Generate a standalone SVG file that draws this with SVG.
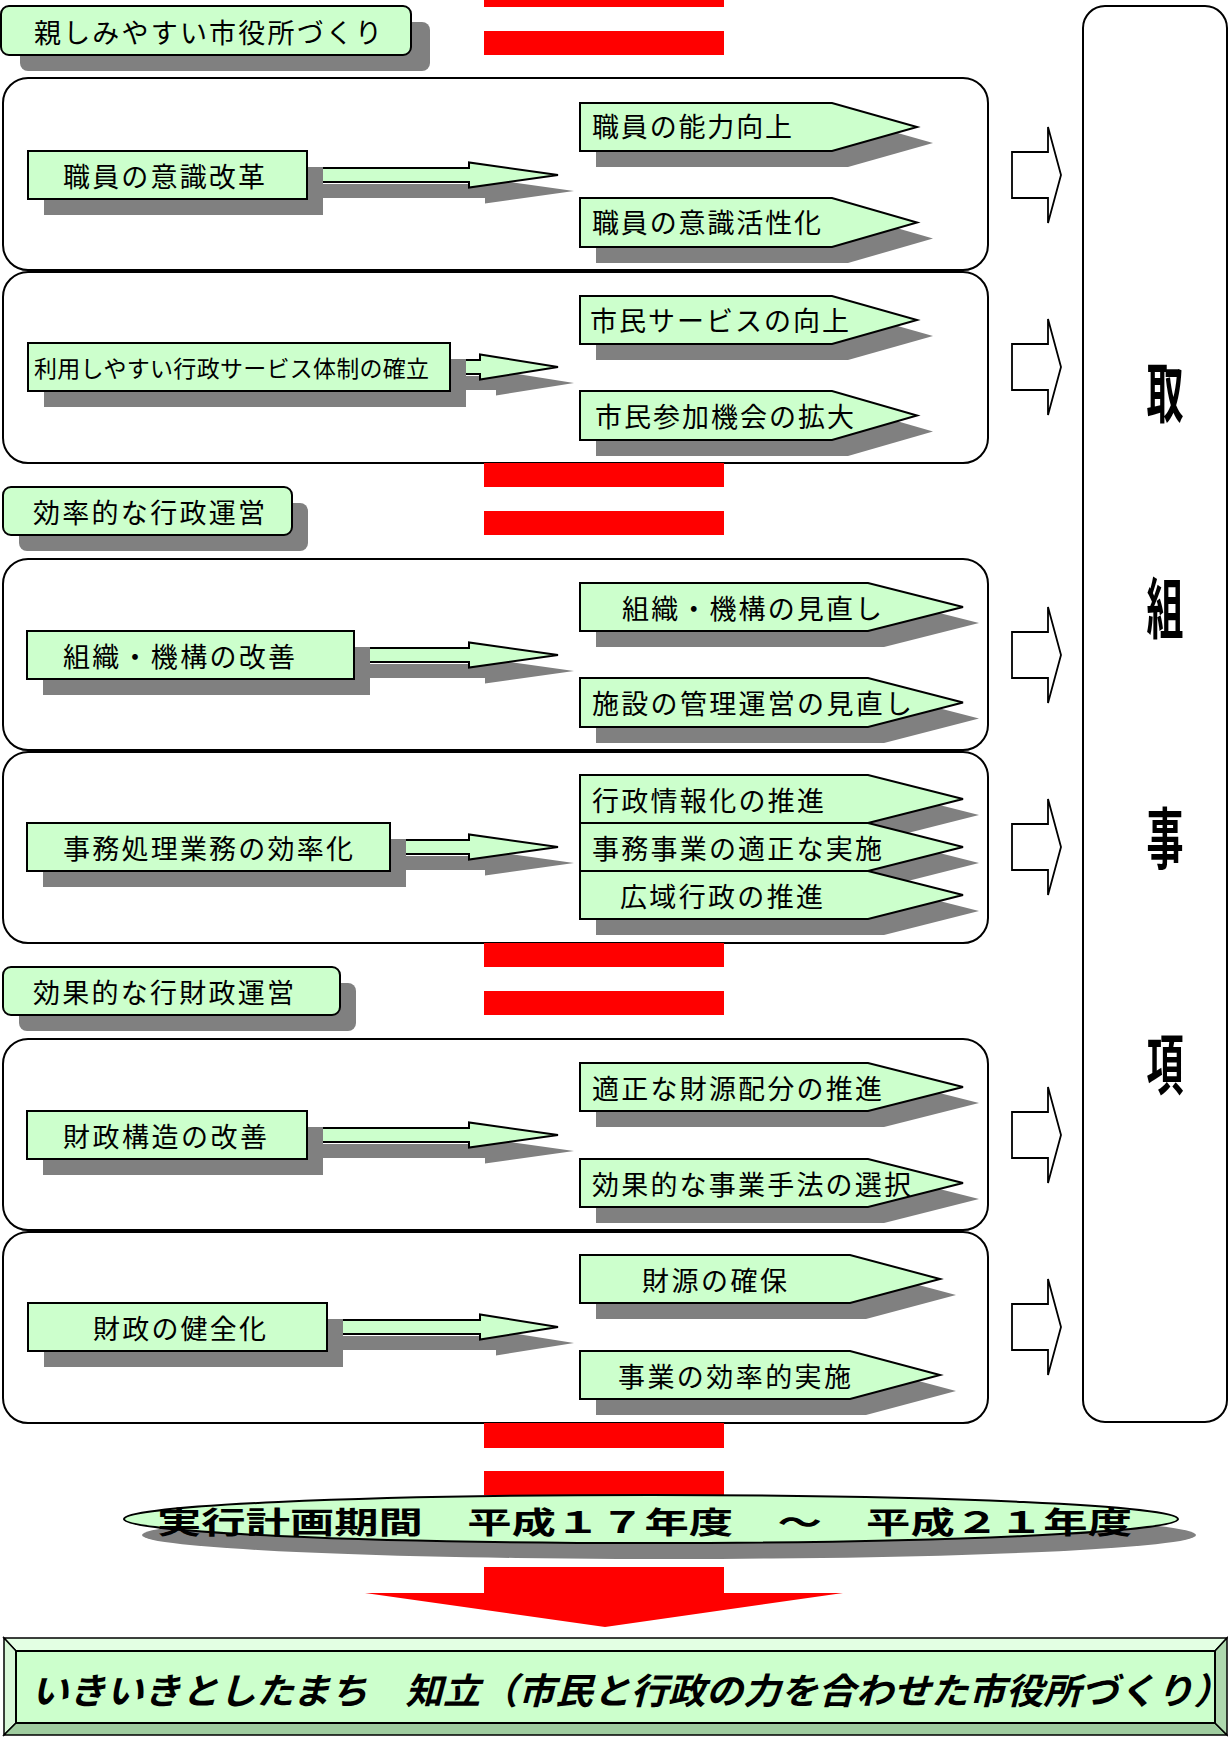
<svg xmlns="http://www.w3.org/2000/svg" width="1228" height="1738" viewBox="0 0 1228 1738">
<style>
.bg{fill:#ffffff}
.node{fill:#ccffcc;stroke:#000;stroke-width:2;stroke-linejoin:miter}
.sh{fill:#808080}
.grp{fill:#ffffff;stroke:#000;stroke-width:2}
.bar{fill:#ff0000}
.hollow{fill:#ffffff;stroke:#000;stroke-width:1.8;stroke-linejoin:miter}
.t{font-family:"Noto Sans CJK JP","Noto Sans CJK SC",sans-serif;font-size:27px;fill:#000;dominant-baseline:central}
.tb{font-family:"Noto Sans CJK JP","Noto Sans CJK SC",sans-serif;font-weight:bold;fill:#000;dominant-baseline:central}
</style>
<rect class="bg" x="0" y="0" width="1228" height="1738"/>

<!-- group containers -->
<g id="groups">
<rect id="grp1" class="grp" x="3" y="78" width="985" height="192" rx="25"/>
<rect id="grp2" class="grp" x="3" y="272" width="985" height="191" rx="25"/>
<rect id="grp3" class="grp" x="3" y="559" width="985" height="191" rx="25"/>
<rect id="grp4" class="grp" x="3" y="752" width="985" height="191" rx="25"/>
<rect id="grp5" class="grp" x="3" y="1039" width="985" height="191" rx="25"/>
<rect id="grp6" class="grp" x="3" y="1232" width="985" height="191" rx="25"/>
</g>

<!-- connectors -->
<g id="connectors">
<!-- red dashed flow bars -->
<rect class="bar" x="484" y="0" width="240" height="7"/>
<rect class="bar" x="484" y="31" width="240" height="24"/>
<rect class="bar" x="484" y="463" width="240" height="24"/>
<rect class="bar" x="484" y="511" width="240" height="24"/>
<rect class="bar" x="484" y="943" width="240" height="24"/>
<rect class="bar" x="484" y="991" width="240" height="24"/>
<rect class="bar" x="484" y="1423" width="240" height="25"/>
<rect class="bar" x="484" y="1471" width="240" height="24"/>
<polygon class="bar" points="484,1567 724,1567 724,1593 843,1593 605,1627 365,1593 484,1593"/>

<!-- block arrows from left nodes (shadow then arrow) -->
<g id="arr1">
<polygon class="sh" transform="translate(16,16)" points="300,168 469,168 469,162.5 558,175 469,187.5 469,182 300,182"/>
<polygon class="node" points="300,168 469,168 469,162.5 558,175 469,187.5 469,182 300,182"/>
</g>
<g id="arr2">
<polygon class="sh" transform="translate(16,16)" points="443,360 480,360 480,354.5 558,367 480,379.5 480,374 443,374"/>
<polygon class="node" points="443,360 480,360 480,354.5 558,367 480,379.5 480,374 443,374"/>
</g>
<g id="arr3">
<polygon class="sh" transform="translate(16,16)" points="347,648 469,648 469,642.5 558,655 469,667.5 469,662 347,662"/>
<polygon class="node" points="347,648 469,648 469,642.5 558,655 469,667.5 469,662 347,662"/>
</g>
<g id="arr4">
<polygon class="sh" transform="translate(16,16)" points="383,840 469,840 469,834.5 558,847 469,859.5 469,854 383,854"/>
<polygon class="node" points="383,840 469,840 469,834.5 558,847 469,859.5 469,854 383,854"/>
</g>
<g id="arr5">
<polygon class="sh" transform="translate(16,16)" points="300,1128 469,1128 469,1122.5 558,1135 469,1147.5 469,1142 300,1142"/>
<polygon class="node" points="300,1128 469,1128 469,1122.5 558,1135 469,1147.5 469,1142 300,1142"/>
</g>
<g id="arr6">
<polygon class="sh" transform="translate(16,16)" points="320,1320 480,1320 480,1314.5 558,1327 480,1339.5 480,1334 320,1334"/>
<polygon class="node" points="320,1320 480,1320 480,1314.5 558,1327 480,1339.5 480,1334 320,1334"/>
</g>

<!-- hollow arrows to 取組事項 -->
<polygon class="hollow" points="1012,152 1048,152 1048,127 1061,175 1048,223 1048,198 1012,198"/>
<polygon class="hollow" points="1012,344 1048,344 1048,319 1061,367 1048,415 1048,390 1012,390"/>
<polygon class="hollow" points="1012,632 1048,632 1048,607 1061,655 1048,703 1048,678 1012,678"/>
<polygon class="hollow" points="1012,824 1048,824 1048,799 1061,847 1048,895 1048,870 1012,870"/>
<polygon class="hollow" points="1012,1112 1048,1112 1048,1087 1061,1135 1048,1183 1048,1158 1012,1158"/>
<polygon class="hollow" points="1012,1304 1048,1304 1048,1279 1061,1327 1048,1375 1048,1350 1012,1350"/>
</g>

<!-- section labels -->
<g id="label1">
<rect class="sh" x="20" y="22" width="410" height="49" rx="8"/>
<rect class="node" x="1" y="6" width="410" height="49" rx="8"/>
<text class="t" x="34" y="31" textLength="348">親しみやすい市役所づくり</text>
</g>
<g id="label2">
<rect class="sh" x="19" y="503" width="289" height="48" rx="8"/>
<rect class="node" x="3" y="487" width="289" height="48" rx="8"/>
<text class="t" x="33" y="511" textLength="232">効率的な行政運営</text>
</g>
<g id="label3">
<rect class="sh" x="19" y="983" width="337" height="48" rx="8"/>
<rect class="node" x="3" y="967" width="337" height="48" rx="8"/>
<text class="t" x="33" y="991" textLength="261">効果的な行財政運営</text>
</g>

<!-- left nodes -->
<g id="n1">
<rect class="sh" x="44" y="167" width="279" height="48"/>
<rect class="node" x="28" y="151" width="279" height="48"/>
<text class="t" x="63" y="175" textLength="202">職員の意識改革</text>
</g>
<g id="n2">
<rect class="sh" x="44" y="359" width="422" height="48"/>
<rect class="node" x="28" y="343" width="422" height="48"/>
<text class="t" x="34" y="367" style="font-size:23px" textLength="395">利用しやすい行政サービス体制の確立</text>
</g>
<g id="n3">
<rect class="sh" x="43" y="647" width="327" height="48"/>
<rect class="node" x="27" y="631" width="327" height="48"/>
<text class="t" x="63" y="655" textLength="232">組織・機構の改善</text>
</g>
<g id="n4">
<rect class="sh" x="43" y="839" width="363" height="48"/>
<rect class="node" x="27" y="823" width="363" height="48"/>
<text class="t" x="63" y="847" textLength="290">事務処理業務の効率化</text>
</g>
<g id="n5">
<rect class="sh" x="43" y="1127" width="280" height="48"/>
<rect class="node" x="27" y="1111" width="280" height="48"/>
<text class="t" x="63" y="1135" textLength="204">財政構造の改善</text>
</g>
<g id="n6">
<rect class="sh" x="44" y="1319" width="299" height="48"/>
<rect class="node" x="28" y="1303" width="299" height="48"/>
<text class="t" x="93" y="1327" textLength="173">財政の健全化</text>
</g>

<!-- right pentagon nodes -->
<g id="p1a">
<path class="sh" transform="translate(16,16)" d="M580,103 H832 L917,127 L832,151 H580 Z"/>
<path class="node" d="M580,103 H832 L917,127 L832,151 H580 Z"/>
<text class="t" x="592" y="125" textLength="200">職員の能力向上</text>
</g>
<g id="p1b">
<path class="sh" transform="translate(16,16)" d="M580,198 H832 L917,222.5 L832,247 H580 Z"/>
<path class="node" d="M580,198 H832 L917,222.5 L832,247 H580 Z"/>
<text class="t" x="592" y="221" textLength="229">職員の意識活性化</text>
</g>
<g id="p2a">
<path class="sh" transform="translate(16,16)" d="M580,296 H832 L917,320 L832,344 H580 Z"/>
<path class="node" d="M580,296 H832 L917,320 L832,344 H580 Z"/>
<text class="t" x="590" y="319" textLength="259">市民サービスの向上</text>
</g>
<g id="p2b">
<path class="sh" transform="translate(16,16)" d="M580,391 H832 L917,415.5 L832,440 H580 Z"/>
<path class="node" d="M580,391 H832 L917,415.5 L832,440 H580 Z"/>
<text class="t" x="595" y="415" textLength="259">市民参加機会の拡大</text>
</g>
<g id="p3a">
<path class="sh" transform="translate(16,16)" d="M580,583 H868 L963,607 L868,631 H580 Z"/>
<path class="node" d="M580,583 H868 L963,607 L868,631 H580 Z"/>
<text class="t" x="622" y="607" textLength="260">組織・機構の見直し</text>
</g>
<g id="p3b">
<path class="sh" transform="translate(16,16)" d="M580,678 H868 L963,702.5 L868,727 H580 Z"/>
<path class="node" d="M580,678 H868 L963,702.5 L868,727 H580 Z"/>
<text class="t" x="592" y="702" textLength="320">施設の管理運営の見直し</text>
</g>
<g id="p4a">
<path class="sh" transform="translate(16,16)" d="M580,775 H868 L963,799 L868,823 H580 Z"/>
</g>
<g id="p4b">
<path class="sh" transform="translate(16,16)" d="M580,823 H868 L963,847 L868,871 H580 Z"/>
</g>
<g id="p4c">
<path class="sh" transform="translate(16,16)" d="M580,871 H868 L963,895 L868,919 H580 Z"/>
<path class="node" d="M580,871 H868 L963,895 L868,919 H580 Z"/>
<text class="t" x="620" y="895" textLength="203">広域行政の推進</text>
</g>
<g id="p4b-face">
<path class="node" d="M580,823 H868 L963,847 L868,871 H580 Z"/>
<text class="t" x="592" y="847" textLength="290">事務事業の適正な実施</text>
</g>
<g id="p4a-face">
<path class="node" d="M580,775 H868 L963,799 L868,823 H580 Z"/>
<text class="t" x="592" y="799" textLength="232">行政情報化の推進</text>
</g>
<g id="p5a">
<path class="sh" transform="translate(16,16)" d="M580,1063 H868 L963,1087 L868,1111 H580 Z"/>
<path class="node" d="M580,1063 H868 L963,1087 L868,1111 H580 Z"/>
<text class="t" x="592" y="1087" textLength="290">適正な財源配分の推進</text>
</g>
<g id="p5b">
<path class="sh" transform="translate(16,16)" d="M580,1159 H868 L963,1183 L868,1207 H580 Z"/>
<path class="node" d="M580,1159 H868 L963,1183 L868,1207 H580 Z"/>
<text class="t" x="592" y="1183" textLength="319">効果的な事業手法の選択</text>
</g>
<g id="p6a">
<path class="sh" transform="translate(16,16)" d="M580,1255 H850 L940,1279 L850,1303 H580 Z"/>
<path class="node" d="M580,1255 H850 L940,1279 L850,1303 H580 Z"/>
<text class="t" x="642" y="1279" textLength="145">財源の確保</text>
</g>
<g id="p6b">
<path class="sh" transform="translate(16,16)" d="M580,1351 H850 L940,1375 L850,1399 H580 Z"/>
<path class="node" d="M580,1351 H850 L940,1375 L850,1399 H580 Z"/>
<text class="t" x="618" y="1375" textLength="233">事業の効率的実施</text>
</g>

<!-- 取組事項 -->
<g id="torikumi">
<rect class="grp" x="1083" y="6" width="144" height="1416" rx="22"/>
<text class="tb" transform="translate(1165,388) scale(0.56,1)" text-anchor="middle" style="font-size:66px">取</text>
<text class="tb" transform="translate(1165,604) scale(0.56,1)" text-anchor="middle" style="font-size:66px">組</text>
<text class="tb" transform="translate(1165,834) scale(0.56,1)" text-anchor="middle" style="font-size:66px">事</text>
<text class="tb" transform="translate(1165,1060) scale(0.56,1)" text-anchor="middle" style="font-size:66px">項</text>
</g>

<!-- period ellipse -->
<g id="period">
<ellipse class="sh" cx="669" cy="1535" rx="527" ry="24"/>
<ellipse class="node" cx="651" cy="1519" rx="527" ry="24"/>
<text class="tb" x="157" y="1520" style="font-size:30px" textLength="975" lengthAdjust="spacingAndGlyphs">実行計画期間　平成１７年度　～　平成２１年度</text>
</g>

<!-- goal banner -->
<g id="goal">
<polygon points="4,1638 1227,1638 1215,1651 16,1651" fill="#e3ffe3" stroke="#000" stroke-width="1.5"/>
<polygon points="4,1638 16,1651 16,1723 4,1735" fill="#d8f8d8" stroke="#000" stroke-width="1.5"/>
<polygon points="4,1735 16,1723 1215,1723 1227,1735" fill="#9fcc9f" stroke="#000" stroke-width="1.5"/>
<polygon points="1227,1638 1227,1735 1215,1723 1215,1651" fill="#aed8ae" stroke="#000" stroke-width="1.5"/>
<rect x="16" y="1651" width="1199" height="72" fill="#ccffcc" stroke="#000" stroke-width="2"/>
<text class="tb" x="31" y="1688" style="font-size:36px;font-style:italic" textLength="1200" lengthAdjust="spacingAndGlyphs">いきいきとしたまち　知立（市民と行政の力を合わせた市役所づくり）</text>
</g>
</svg>
